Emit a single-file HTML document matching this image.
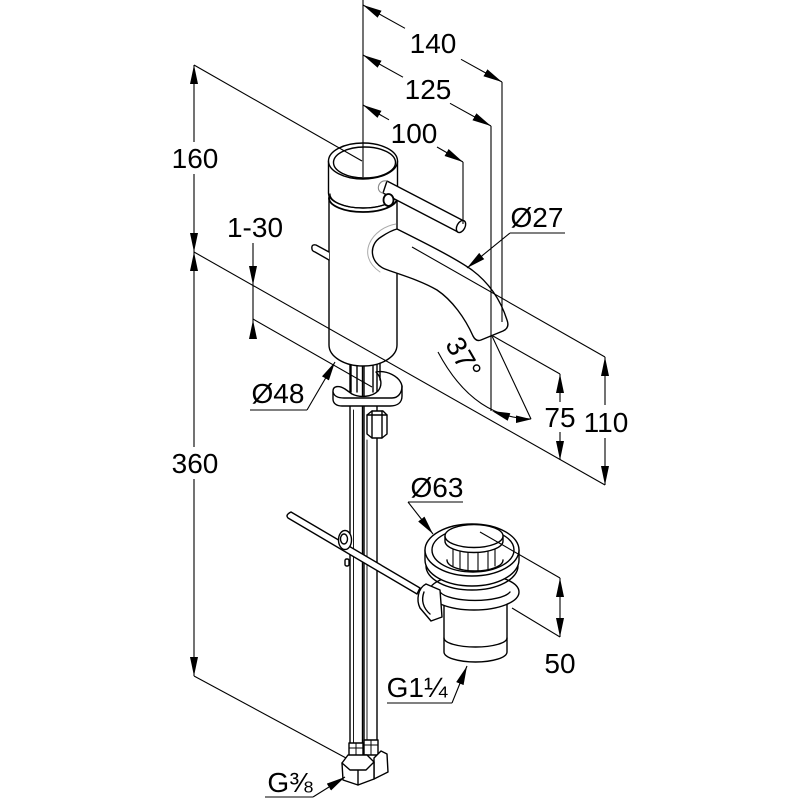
<!DOCTYPE html>
<html><head><meta charset="utf-8"><style>
html,body{margin:0;padding:0;background:#fff;}
svg{display:block;}
text{font-family:"Liberation Sans","DejaVu Sans",Arial,sans-serif;font-size:28px;fill:#000;stroke:none;}
</style></head><body>
<svg width="800" height="800" viewBox="0 0 800 800" xmlns="http://www.w3.org/2000/svg">
<defs>
<marker id="a" viewBox="0 0 20 10" refX="19" refY="5" markerWidth="20" markerHeight="10" markerUnits="userSpaceOnUse" orient="auto-start-reverse"><path d="M0,1 L19,5 L0,9 Z" fill="#000"/></marker>
</defs>
<rect width="800" height="800" fill="#fff"/>

<!-- ============ FAUCET / PARTS ============ -->
<g fill="none" stroke="#000" stroke-width="1.4" stroke-linejoin="round" stroke-linecap="round">

<!-- hoses -->
<rect x="350" y="355" width="12.5" height="392" fill="#fff"/>
<rect x="364" y="355" width="13" height="388" fill="#fff"/>
<line x1="353.5" y1="410" x2="353.5" y2="743" stroke-width="0.9"/>
<line x1="367" y1="440" x2="367" y2="740" stroke-width="0.9"/>

<!-- bracket (horseshoe) -->
<path d="M333,391 C333,386 339,385 345,389 L352,394 C360,398 372,397 378,391 C383,385 381,377 376,372 C386,370 400,376 402,386 L402,396 C402,403 397,406 390,406 L342,406 C336,406 333,403 333,399 Z" fill="#fff"/>
<path d="M333,392 C334,396 338,398 344,398 L392,398 C398,398 402,393 402,386"/>
<!-- nut -->
<path d="M367,415 L372,411 L383,411 L387,415 L387,434 L382,438 L372,438 L367,434 Z" fill="#fff"/>
<path d="M372,411 L372,438 M382,411 L382,438 M367,415 L387,415"/>
<!-- short rods under body -->
<path d="M351,362 L351,392 M357,362 L357,392 M373,362 L373,392 M380,362 L380,380"/>

<!-- drain rod -->
<path d="M291,512 L420,588 L417,594 L288,518 Q285,515 291,512 Z" fill="#fff"/>
<!-- clip on hose -->
<ellipse cx="345" cy="540" rx="6.5" ry="9.5" fill="#fff"/>
<ellipse cx="344" cy="539" rx="3.5" ry="5"/>
<rect x="345" y="559" width="4" height="7" rx="1.5" fill="#fff"/>

<!-- body -->
<path d="M329,165 L329,345 A34,21 0 0 0 397,345 L397,165 Z" fill="#fff"/>
<!-- cap -->
<path d="M328.5,161 L328.5,193 A34.5,15 0 0 0 397.5,193 L397.5,161 Z" fill="#fff"/>
<ellipse cx="363" cy="161" rx="34.5" ry="18" fill="#fff"/>
<ellipse cx="364.5" cy="162.5" rx="31" ry="15.5"/>
<path d="M329,198 A34,14 0 0 0 397,198" stroke-width="1.8"/>
<path d="M330,194 A33,14 0 0 0 396,194" stroke-width="1.2"/>
<!-- small pin left -->
<path d="M329,252 L316,245 Q311,244 312,249 Q312,251 315,252 L329,260" fill="#fff"/>
<!-- lever -->
<path d="M387,181 L462,220 L458,232 L383,193 Z" fill="#fff"/>
<path d="M387,181 C378,179 375,192 383,193" stroke="#888" stroke-width="1.1"/>
<ellipse cx="461" cy="226.5" rx="4" ry="6.5" transform="rotate(28 461 226.5)" fill="#fff"/>
<ellipse cx="388.5" cy="200" rx="5" ry="6" stroke-width="1.8" fill="#fff"/>

<!-- spout -->
<path d="M396,224 C372,228 355,255 380,272" stroke="#aaa" stroke-width="1"/>
<path d="M397,229 C425,243 455,258 472,270 C488,282 500,298 507,320 Q510,328 503,331 L481,340 Q476,342 473,336 C465,318 452,300 437,290 C420,280 398,274 385,269 C370,263 368,245 381,237 C387,233 393,230 397,229 Z" fill="#fff"/>

<!-- drain -->
<path d="M444,600 L444,652 A31.5,10 0 0 0 507,652 L507,600 Z" fill="#fff"/>
<path d="M444,638 A31.5,9 0 0 0 507,638"/>
<ellipse cx="474" cy="592" rx="45" ry="18" fill="#fff"/>
<path d="M440,592 A36,11 0 0 0 510,592"/>
<path d="M425,550 L425,560 A47,26 0 0 0 519,560 L519,550 Z" fill="#fff"/>
<path d="M426,566 A46,24 0 0 0 518,566"/>
<ellipse cx="472" cy="550" rx="47" ry="26" fill="#fff"/>
<ellipse cx="473" cy="550" rx="41" ry="22"/>
<path d="M447,560 A28,11 0 0 0 503,560"/>
<path d="M453,548 L453,566 M460,550 L460,569 M468,551 L468,571 M478,551 L478,571 M488,550 L488,569 M495,548 L495,566" stroke-width="1.1"/>
<path d="M445,536 L445,541 A29,11.5 0 0 0 503,541 L503,536 Z" fill="#fff"/>
<ellipse cx="474" cy="536" rx="29" ry="11.5" fill="#fff"/>
<!-- pivot -->
<path d="M426,584 C418,588 416,600 420,608 L431,621 L442,617 L440,590 Z" fill="#fff"/>
<path d="M424,592 C421,600 423,608 430,614"/>

<!-- bottom connectors -->
<rect x="364" y="740" width="14" height="15" fill="#fff"/>
<path d="M364,745 L378,745 M371,740 L371,755" stroke-width="1"/>
<rect x="349" y="743" width="14" height="20" fill="#fff"/>
<path d="M349,748 L363,748 M356,743 L356,763" stroke-width="1"/>
<path d="M374,758 L381,751 L387,754 L388,772 L374,779 Z" fill="#fff"/>
<path d="M342,763 L348,755 L367,755 L374,762 L374,779 L358,785 L343,780 Z" fill="#fff"/>
<path d="M342,763 L350,770 L366,770 L374,762 M358,770 L358,785"/>
</g>

<!-- ============ DIMENSIONS ============ -->
<g fill="none" stroke="#000" stroke-width="1.1">
<!-- vertical 160 / 360 -->
<line x1="194" y1="142" x2="194" y2="65" marker-end="url(#a)"/>
<line x1="194" y1="174" x2="194" y2="252" marker-end="url(#a)"/>
<line x1="194" y1="447" x2="194" y2="252" marker-end="url(#a)"/>
<line x1="194" y1="479" x2="194" y2="676" marker-end="url(#a)"/>
<line x1="194" y1="65" x2="362" y2="161"/>
<line x1="194" y1="252" x2="605" y2="485"/>
<line x1="194" y1="676" x2="346" y2="758"/>

<!-- top verticals -->
<line x1="363" y1="0" x2="363" y2="177"/>
<line x1="502" y1="82" x2="502" y2="322"/>
<line x1="491" y1="126" x2="491" y2="411"/>
<line x1="463" y1="162" x2="463" y2="224"/>
<!-- 140 -->
<line x1="405" y1="28.3" x2="363" y2="5" marker-end="url(#a)"/>
<line x1="461" y1="59.3" x2="502" y2="82" marker-end="url(#a)"/>
<!-- 125 -->
<line x1="403" y1="77.2" x2="363" y2="55" marker-end="url(#a)"/>
<line x1="450" y1="103.3" x2="491" y2="126" marker-end="url(#a)"/>
<!-- 100 -->
<line x1="389" y1="119.8" x2="363" y2="105" marker-end="url(#a)"/>
<line x1="437" y1="147" x2="463" y2="162" marker-end="url(#a)"/>

<!-- 1-30 -->
<line x1="253" y1="243" x2="253" y2="285" marker-end="url(#a)"/>
<line x1="253" y1="285" x2="253" y2="320"/>
<line x1="253" y1="339" x2="253" y2="320" marker-end="url(#a)"/>
<line x1="253" y1="319" x2="372" y2="387"/>

<!-- Ø27 -->
<line x1="510" y1="233" x2="565" y2="233"/>
<line x1="510" y1="233" x2="467" y2="268" marker-end="url(#a)"/>
<!-- Ø48 -->
<line x1="250" y1="410" x2="307" y2="410"/>
<line x1="307" y1="410" x2="335" y2="362" marker-end="url(#a)"/>
<!-- Ø63 -->
<line x1="408" y1="502" x2="463" y2="502"/>
<line x1="408" y1="502" x2="433" y2="534" marker-end="url(#a)"/>
<!-- G1 1/4 -->
<line x1="387" y1="703" x2="452" y2="703"/>
<line x1="452" y1="703" x2="467" y2="666" marker-end="url(#a)"/>
<!-- G3/8 -->
<line x1="265" y1="797" x2="313" y2="797"/>
<line x1="313" y1="797" x2="345" y2="777" marker-end="url(#a)"/>

<!-- 110 / 75 -->
<line x1="412" y1="247" x2="605" y2="357"/>
<line x1="493" y1="336" x2="560" y2="374"/>
<line x1="605" y1="405" x2="605" y2="357" marker-end="url(#a)"/>
<line x1="605" y1="438" x2="605" y2="485" marker-end="url(#a)"/>
<line x1="560" y1="402" x2="560" y2="374" marker-end="url(#a)"/>
<line x1="560" y1="432" x2="560" y2="460" marker-end="url(#a)"/>

<!-- 37° -->
<line x1="492" y1="336" x2="531" y2="419"/>
<path d="M438,352 Q473,418 531,419"/>
<polygon points="492,411 507.7,420.8 510.3,413.2" fill="#000" stroke="none"/>
<polygon points="531.5,419.3 516,415.5 516,423" fill="#000" stroke="none"/>

<!-- 50 -->
<line x1="480" y1="532" x2="560" y2="578"/>
<line x1="512" y1="608" x2="560" y2="637"/>
<line x1="560" y1="578" x2="560" y2="637" marker-start="url(#a)" marker-end="url(#a)"/>
</g>

<!-- ============ TEXT ============ -->
<g text-anchor="middle">
<text x="433" y="53">140</text>
<text x="428" y="99">125</text>
<text x="414" y="143">100</text>
<text x="195" y="168">160</text>
<text x="255" y="237">1-30</text>
<text x="537" y="227">Ø27</text>
<text x="278" y="403">Ø48</text>
<text x="560" y="427">75</text>
<text x="606" y="432">110</text>
<text x="195" y="473">360</text>
<text x="437" y="497">Ø63</text>
<text x="560" y="673">50</text>
<text x="417" y="697">G1¼</text>
<text x="290" y="792">G⅜</text>
<text transform="translate(463,358) rotate(60)" y="9" font-size="27">37°</text>
</g>
</svg>
</body></html>
